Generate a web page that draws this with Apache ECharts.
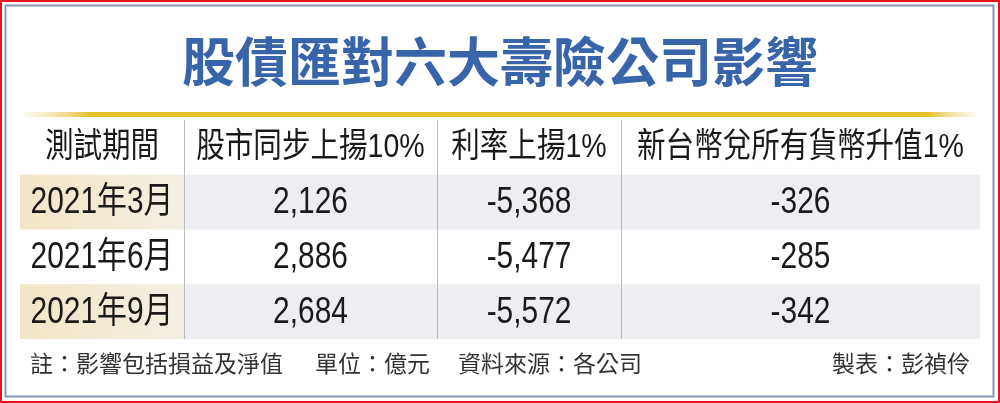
<!DOCTYPE html>
<html>
<head>
<meta charset="utf-8">
<script src="https://cdn.jsdelivr.net/npm/echarts@6/dist/echarts.min.js"></script>
<style>
html,body{margin:0;padding:0;background:#fff;}
#chart{width:1000px;height:403px;}
</style>
</head>
<body>
<div id="chart"></div>
<script>
// ---- data ----
var title = '股債匯對六大壽險公司影響';
var headers = ['測試期間', '股市同步上揚10%', '利率上揚1%', '新台幣兌所有貨幣升值1%'];
var periods = ['2021年3月', '2021年6月', '2021年9月'];
var stockUp10 = [2126, 2886, 2684];
var rateUp1 = [-5368, -5477, -5572];
var twdUp1 = [-326, -285, -342];
var noteLeft = ['註：影響包括損益及淨值', '單位：億元', '資料來源：各公司'];
var noteRight = '製表：彭禎伶';

// ---- layout ----
var COL_EDGES = [0, 164, 417, 601, 960];
var FONT = 'Arial, "Liberation Sans", "Noto Sans CJK TC", sans-serif';
var CJK = '"Noto Sans CJK TC", sans-serif';

var rowNames = ['header'].concat(periods);
function fmt(v) { return v.toLocaleString('en-US'); }

var cells = [];
headers.forEach(function (h, c) { cells.push([c, 0, h]); });
periods.forEach(function (p, r) {
  cells.push([0, r + 1, p]);
  cells.push([1, r + 1, fmt(stockUp10[r])]);
  cells.push([2, r + 1, fmt(rateUp1[r])]);
  cells.push([3, r + 1, fmt(twdUp1[r])]);
});

function renderCell(params, api) {
  var c = api.value(0), r = api.value(1);
  var txt = cells[params.dataIndex][2];
  var p0 = api.coord([COL_EDGES[c], r]);
  var p1 = api.coord([COL_EDGES[c + 1], r]);
  var h = api.size([0, 1])[1];
  var x0 = p0[0], x1 = p1[0], yc = p0[1];
  var children = [];
  if (r % 2 === 1) {
    var fill = c === 0 ? new echarts.graphic.LinearGradient(0, 0, 1, 0, [
      { offset: 0, color: '#f3e5c6' }, { offset: 1, color: '#f4efe4' }
    ]) : '#edeef1';
    children.push({ type: 'rect', shape: { x: x0, y: yc - h / 2, width: x1 - x0, height: h }, style: { fill: fill } });
  }
  if (c > 0) {
    children.push({ type: 'line', shape: { x1: x0 + 0.5, y1: yc - h / 2, x2: x0 + 0.5, y2: yc + h / 2 }, style: { stroke: '#b9b9b9', lineWidth: 1 } });
  }
  var isHead = r === 0;
  children.push({
    type: 'text',
    x: (x0 + x1) / 2, y: yc + (isHead ? 0 : 1),
    scaleX: isHead ? 0.84 : 0.83,
    style: {
      text: txt, x: 0, y: 0, align: 'center', verticalAlign: 'middle',
      font: (isHead ? '34px ' : '36px ') + FONT, fill: '#1a1a1a'
    }
  });
  return { type: 'group', children: children };
}

var chart = echarts.init(document.getElementById('chart'), null, { renderer: 'canvas' });
chart.setOption({
  animation: false,
  backgroundColor: '#ffffff',
  grid: { left: 20, right: 20, top: 120, bottom: 64 },
  xAxis: { type: 'value', min: 0, max: 960, show: false },
  yAxis: { type: 'category', data: rowNames, inverse: true, show: false },
  series: [{
    type: 'custom',
    renderItem: renderCell,
    data: cells.map(function (d) { return [d[0], d[1]]; }),
    silent: true
  }],
  graphic: [
    { type: 'rect', shape: { x: 1, y: 1, width: 998, height: 401 }, style: { fill: 'none', stroke: '#e5141c', lineWidth: 2 }, z: 10 },
    { type: 'rect', shape: { x: 5.5, y: 5.5, width: 988, height: 391 }, style: { fill: 'none', stroke: '#8597b4', lineWidth: 2 }, z: 10 },
    { type: 'text', x: 500, y: 62, style: { text: title, align: 'center', verticalAlign: 'middle', font: 'bold 53px ' + CJK, fill: '#3864aa' } },
    { type: 'rect', shape: { x: 24, y: 112, width: 952, height: 5 }, style: {
      fill: new echarts.graphic.LinearGradient(0, 0, 1, 0, [
        { offset: 0, color: 'rgba(240,225,170,0.2)' },
        { offset: 0.07, color: '#e4c02c' },
        { offset: 0.95, color: '#e4c02c' },
        { offset: 1, color: 'rgba(240,225,170,0.2)' }
      ]) } },
    { type: 'text', x: 30, y: 363, style: { text: noteLeft[0], align: 'left', verticalAlign: 'middle', font: '23px ' + CJK, fill: '#333333' } },
    { type: 'text', x: 315, y: 363, style: { text: noteLeft[1], align: 'left', verticalAlign: 'middle', font: '23px ' + CJK, fill: '#333333' } },
    { type: 'text', x: 458, y: 363, style: { text: noteLeft[2], align: 'left', verticalAlign: 'middle', font: '23px ' + CJK, fill: '#333333' } },
    { type: 'text', x: 970, y: 363, style: { text: noteRight, align: 'right', verticalAlign: 'middle', font: '23px ' + CJK, fill: '#333333' } }
  ]
});
</script>
</body>
</html>
